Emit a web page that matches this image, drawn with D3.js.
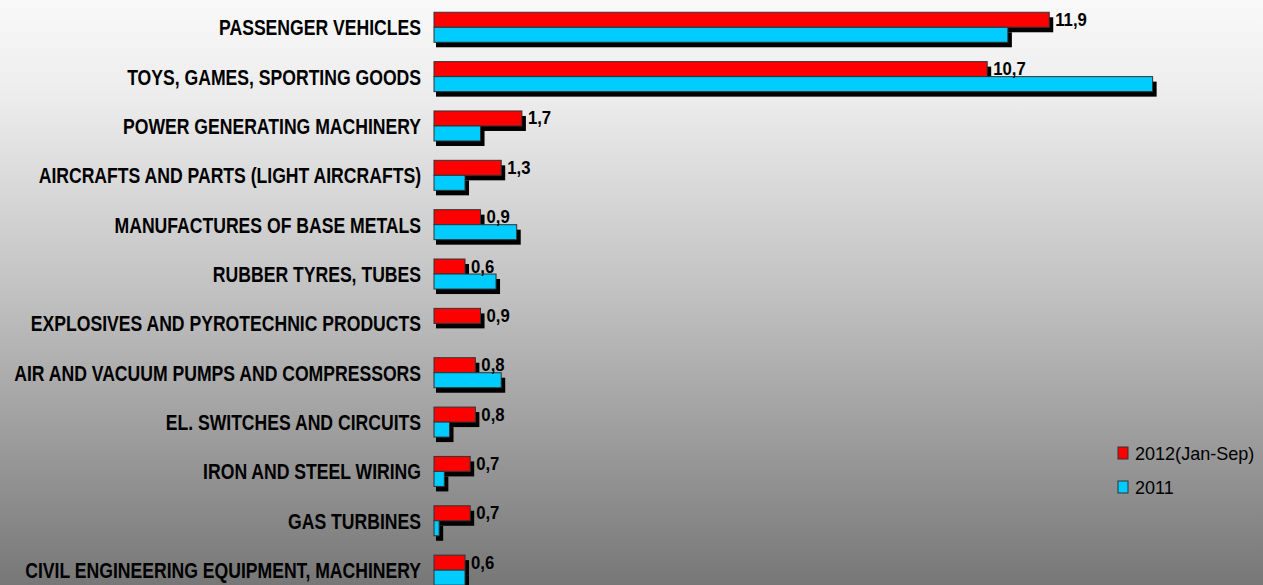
<!DOCTYPE html>
<html>
<head>
<meta charset="utf-8">
<script src="https://cdn.jsdelivr.net/npm/d3@7/dist/d3.min.js"></script>
<style>
  html, body { margin: 0; padding: 0; overflow: hidden; }
  svg { display: block; }
</style>
</head>
<body>
<svg id="chart" width="1263" height="585"></svg>
<script>
const categories = [
  "PASSENGER VEHICLES",
  "TOYS, GAMES, SPORTING GOODS",
  "POWER GENERATING MACHINERY",
  "AIRCRAFTS AND PARTS (LIGHT AIRCRAFTS)",
  "MANUFACTURES OF BASE METALS",
  "RUBBER TYRES, TUBES",
  "EXPLOSIVES AND PYROTECHNIC PRODUCTS",
  "AIR AND VACUUM PUMPS AND COMPRESSORS",
  "EL. SWITCHES AND CIRCUITS",
  "IRON AND STEEL WIRING",
  "GAS TURBINES",
  "CIVIL ENGINEERING EQUIPMENT, MACHINERY"
];
const values2012 = [11.9, 10.7, 1.7, 1.3, 0.9, 0.6, 0.9, 0.8, 0.8, 0.7, 0.7, 0.6];
const values2011 = [11.1, 13.9, 0.9, 0.6, 1.6, 1.2, 0, 1.3, 0.3, 0.2, 0.1, 0.6];
const seriesNames = ["2012(Jan-Sep)", "2011"];
const seriesColors = ["#ff0000", "#00ccff"];

const W = 1263, H = 585;
const svg = d3.select("#chart");
const defs = svg.append("defs");
const grad = defs.append("linearGradient").attr("id", "bg").attr("x1", 0).attr("y1", 0).attr("x2", 0).attr("y2", 1);
[[0, "#f9f9f9"], [0.17, "#ececec"], [0.51, "#c0c0c0"], [1, "#777777"]].forEach(([o, c]) =>
  grad.append("stop").attr("offset", o).attr("stop-color", c));
svg.append("rect").attr("width", W).attr("height", H).attr("fill", "url(#bg)");

const x = d3.scaleLinear().domain([0, 14]).range([434, 434 + 14 * 51.7]);
const y = d3.scaleBand().domain(categories).range([2.6, 594.8]).paddingInner(0.392).paddingOuter(0.196);
const sub = d3.scaleBand().domain([0, 1]).range([0, y.bandwidth()]);

const rows = categories.map((c, i) => ({ c, vals: [values2012[i], values2011[i]] }));
const bars = [];
rows.forEach(r => r.vals.forEach((v, k) => bars.push({ c: r.c, v, k })));

const labelFont = "'Liberation Sans Narrow', 'Arial Narrow', 'Liberation Sans', Arial, sans-serif";

// shadows
svg.append("g").selectAll("rect").data(bars.filter(b => b.v > 0)).join("rect")
  .attr("x", x(0) + 2)
  .attr("y", d => y(d.c) + sub(d.k) + 5)
  .attr("width", d => x(d.v) - x(0) + 2)
  .attr("height", sub.bandwidth())
  .attr("fill", "#000");

// bars
svg.append("g").selectAll("rect").data(bars.filter(b => b.v > 0)).join("rect")
  .attr("x", x(0))
  .attr("y", d => y(d.c) + sub(d.k))
  .attr("width", d => x(d.v) - x(0))
  .attr("height", sub.bandwidth())
  .attr("fill", d => seriesColors[d.k])
  .attr("stroke", "#333")
  .attr("stroke-width", 1);

// category labels (condensed bold)
svg.append("g").selectAll("text").data(categories).join("text")
  .attr("transform", d => `translate(421,${y(d) + y.bandwidth() / 2}) scale(0.8,1)`)
  .attr("dy", "0.36em")
  .attr("text-anchor", "end")
  .attr("font-family", labelFont)
  .attr("font-weight", "bold")
  .attr("font-size", 22)
  .attr("fill", "#000")
  .text(d => d);

// value labels (2012 series)
svg.append("g").selectAll("text").data(rows).join("text")
  .attr("transform", d => `translate(${x(d.vals[0]) + 6},${y(d.c) + sub.bandwidth() - 1.5}) scale(0.88,1)`)
  .attr("font-family", labelFont)
  .attr("font-weight", "bold")
  .attr("font-size", 19)
  .attr("fill", "#000")
  .text(d => String(d.vals[0]).replace(".", ","));

// legend
const lg = svg.append("g").attr("transform", "translate(1118,447)");
seriesNames.forEach((n, i) => {
  const g = lg.append("g").attr("transform", `translate(0,${i * 34})`);
  g.append("rect").attr("x", 0).attr("y", 0).attr("width", 10).attr("height", 12)
    .attr("fill", seriesColors[i]).attr("stroke", "#333").attr("stroke-width", 1);
  g.append("text").attr("transform", "translate(17,6) scale(0.95,1)").attr("dy", "0.36em")
    .attr("font-family", labelFont).attr("font-size", 19).attr("fill", "#000").text(n);
});
</script>
</body>
</html>
